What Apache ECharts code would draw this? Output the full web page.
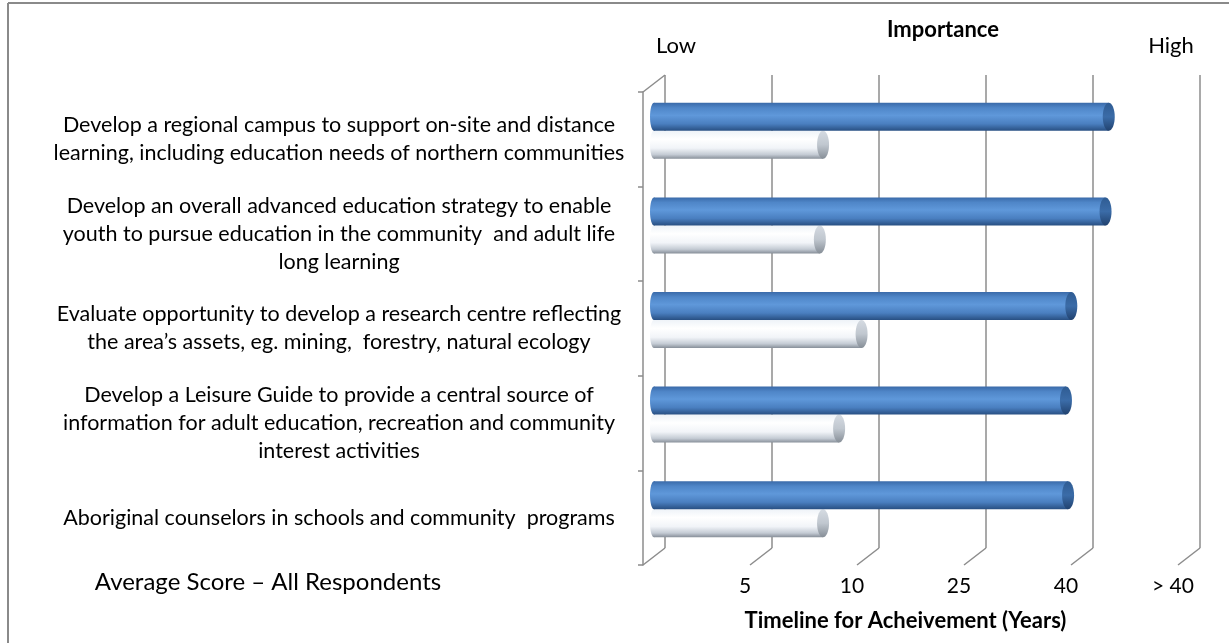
<!DOCTYPE html>
<html>
<head>
<meta charset="utf-8">
<script src="https://cdn.jsdelivr.net/npm/echarts@6/dist/echarts.min.js"></script>
<style>
  html, body { margin: 0; padding: 0; background: #fff; }
  #chart { width: 1229px; height: 643px; }
</style>
</head>
<body>
<div id="chart"></div>
<script>
// chart data
const categories = [
  'Develop a regional campus to support on-site and distance\nlearning, including education needs of northern communities',
  'Develop an overall advanced education strategy to enable\nyouth to pursue education in the community  and adult life\nlong learning',
  'Evaluate opportunity to develop a research centre reflecting\nthe area\u2019s assets, eg. mining,  forestry, natural ecology',
  'Develop a Leisure Guide to provide a central source of\ninformation for adult education, recreation and community\ninterest activities',
  'Aboriginal counselors in schools and community  programs'
];
const importance = [4.25, 4.22, 3.90, 3.85, 3.87];
const timeline = [1.58, 1.55, 1.94, 1.73, 1.58];
const xTickLabels = ['', '5', '10', '25', '40', '> 40'];
const wallSteps = [0, 1, 2, 3, 4, 5];

// 3d-ish layout: front plane, middle (bars) and back wall
const FRONT_LEFT = 643, FRONT_TOP = 92;
const PLOT_W = 535, PLOT_H = 473;
const DX = 22, DY = -17;
const BAR_H = 28;
const GRID_COLOR = '#8c8c8c';
const FONT = 'Lato, "Open Sans", sans-serif';

const chart = echarts.init(document.getElementById('chart'));

const grad = (stops) => new echarts.graphic.LinearGradient(0, 0, 0, 1,
  stops.map((c) => ({ offset: c[0], color: c[1] })));

const blueBody = [[0, '#3a6aa9'], [0.18, '#4f86c8'], [0.45, '#5f98da'], [0.75, '#4a7fc0'], [1, '#284f82']];
const blueCap = [[0, '#2f5c93'], [0.5, '#3b6ca8'], [1, '#21426f']];
const whiteBody = [[0, '#eef3f8'], [0.3, '#ffffff'], [0.62, '#f1f4f8'], [0.85, '#c4cbd4'], [1, '#878f99']];
const whiteCap = [[0, '#d5dbe2'], [0.5, '#c0c7cf'], [1, '#868e97']];

// cylinder-like bar
function cylinder(body, cap, shift) {
  return function (params, api) {
    const cat = api.value(1);
    const p0 = api.coord([0, cat]);
    const p1 = api.coord([api.value(0), cat]);
    const cy = p0[1] + shift;
    const rx = 6;
    return {
      type: 'group',
      children: [
        { type: 'ellipse', shape: { cx: p0[0], cy: cy, rx: rx - 2, ry: BAR_H / 2 }, style: { fill: grad(body) } },
        { type: 'rect', shape: { x: p0[0], y: cy - BAR_H / 2, width: p1[0] - p0[0], height: BAR_H }, style: { fill: grad(body) } },
        { type: 'ellipse', shape: { cx: p1[0], cy: cy, rx: rx, ry: BAR_H / 2 }, style: { fill: grad(cap) } }
      ]
    };
  };
}

const option = {
  backgroundColor: '#fff',
  animation: false,
  grid: [
    { left: FRONT_LEFT, top: FRONT_TOP, width: PLOT_W, height: PLOT_H, outerBoundsMode: 'none' },
    { left: FRONT_LEFT + DX / 2, top: FRONT_TOP + DY / 2, width: PLOT_W, height: PLOT_H, outerBoundsMode: 'none' },
    { left: FRONT_LEFT + DX, top: FRONT_TOP + DY, width: PLOT_W, height: PLOT_H, outerBoundsMode: 'none' }
  ],
  xAxis: [
    {
      gridIndex: 0, type: 'value', min: 0, max: 5, interval: 1,
      axisLine: { show: false }, axisTick: { show: false }, splitLine: { show: false },
      axisLabel: {
        margin: 11, color: '#000', fontSize: 21, fontFamily: FONT, padding: [0, 10, 0, 0],
        formatter: (v) => xTickLabels[v]
      },
      name: 'Timeline for Acheivement (Years)',
      nameLocation: 'middle', nameGap: 45,
      nameTextStyle: { color: '#000', fontSize: 22, fontWeight: 'bold', fontFamily: FONT, padding: [0, 10, 0, 0] }
    },
    { gridIndex: 1, type: 'value', min: 0, max: 5, interval: 1, show: false },
    {
      gridIndex: 2, type: 'value', min: 0, max: 5, interval: 1,
      axisLine: { show: false }, axisTick: { show: false }, axisLabel: { show: false },
      splitLine: { show: true, lineStyle: { color: GRID_COLOR, width: 1.5 } }
    }
  ],
  yAxis: [
    {
      gridIndex: 0, type: 'category', inverse: true, data: categories,
      axisLine: { show: true, lineStyle: { color: GRID_COLOR, width: 1.5 } },
      axisTick: { show: true, length: 5, lineStyle: { color: GRID_COLOR, width: 1.5 } },
      axisLabel: {
        align: 'center', margin: 304, color: '#000', fontSize: 21.5, lineHeight: 28, fontFamily: FONT
      }
    },
    { gridIndex: 1, type: 'category', inverse: true, data: categories, show: false },
    { gridIndex: 2, type: 'category', inverse: true, data: categories, show: false }
  ],
  series: [
    {
      // floor / wall edges from front to back
      type: 'custom', xAxisIndex: 0, yAxisIndex: 0, silent: true,
      data: wallSteps.map((v) => [v, 0]),
      encode: { x: 0, y: 1 },
      renderItem: function (params, api) {
        const cs = params.coordSys;
        const x = api.coord([api.value(0), 0])[0];
        const bottom = cs.y + cs.height;
        const style = { stroke: GRID_COLOR, lineWidth: 1.5 };
        const children = [
          { type: 'line', shape: { x1: x, y1: bottom, x2: x + DX, y2: bottom + DY }, style: style }
        ];
        if (api.value(0) === 0) {
          children.push({ type: 'line', shape: { x1: x, y1: cs.y, x2: x + DX, y2: cs.y + DY }, style: style });
        }
        return { type: 'group', children: children };
      }
    },
    {
      name: 'Timeline', type: 'custom', xAxisIndex: 1, yAxisIndex: 1,
      data: timeline.map((v, i) => [v, i]),
      encode: { x: 0, y: 1 },
      renderItem: cylinder(whiteBody, whiteCap, BAR_H / 2)
    },
    {
      name: 'Importance', type: 'custom', xAxisIndex: 1, yAxisIndex: 1,
      data: importance.map((v, i) => [v, i]),
      encode: { x: 0, y: 1 },
      renderItem: cylinder(blueBody, blueCap, -BAR_H / 2)
    }
  ],
  graphic: [
    { type: 'line', shape: { x1: 8, y1: 3, x2: 1229, y2: 3 }, style: { stroke: '#8a8a8a', lineWidth: 2 } },
    { type: 'line', shape: { x1: 8, y1: 3, x2: 8, y2: 643 }, style: { stroke: '#8a8a8a', lineWidth: 2 } },
    { type: 'text', x: 943, y: 30, style: { text: 'Importance', align: 'center', verticalAlign: 'middle', fontSize: 22, fontWeight: 'bold', fontFamily: FONT, fill: '#000' } },
    { type: 'text', x: 676, y: 46, style: { text: 'Low', align: 'center', verticalAlign: 'middle', fontSize: 22, fontFamily: FONT, fill: '#000' } },
    { type: 'text', x: 1171, y: 46, style: { text: 'High', align: 'center', verticalAlign: 'middle', fontSize: 22, fontFamily: FONT, fill: '#000' } },
    { type: 'text', x: 268, y: 582, style: { text: 'Average Score \u2013 All Respondents', align: 'center', verticalAlign: 'middle', fontSize: 24, fontFamily: FONT, fill: '#000' } }
  ]
};

chart.setOption(option);
</script>
</body>
</html>
